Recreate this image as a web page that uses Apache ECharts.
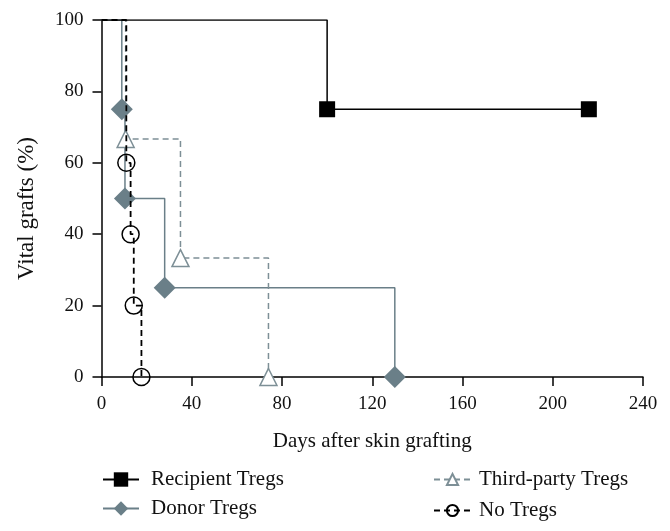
<!DOCTYPE html>
<html><head><meta charset="utf-8">
<script src="https://cdn.jsdelivr.net/npm/echarts@6/dist/echarts.min.js"></script>
<style>html,body{margin:0;padding:0;background:#fff}#c{width:670px;height:531px}</style>
</head><body><div id="c"></div>
<script>
// Kaplan-Meier style data (days, % vital grafts)
const recipientX = [0, 100, 216];
const recipientY = [100, 75, 75];
const donorX = [0, 9, 10.4, 28, 130];
const donorY = [100, 75, 50, 25, 0];
const thirdX = [0, 10.7, 35, 74];
const thirdY = [100, 66.7, 33.3, 0];
const noX = [0, 11, 12.9, 14.3, 17.7];
const noY = [100, 60, 40, 20, 0];
const xTicks = [0, 40, 80, 120, 160, 200, 240];
const yTicks = [0, 20, 40, 60, 80, 100];

const GRAY = '#6a7f88';
const FONT = '"Liberation Serif", "DejaVu Serif", serif';

function pts(xs, ys) {
  return xs.map((x, i) => i === 0 ? {value: [x, ys[i]], symbol: 'none'} : {value: [x, ys[i]]});
}

const chart = echarts.init(document.getElementById('c'), null, {renderer: 'canvas'});
chart.setOption({
  animation: false,
  backgroundColor: '#fff',
  textStyle: {fontFamily: FONT},
  grid: {left: 101.5, right: 27, top: 20, bottom: 154, containLabel: false, outerBoundsMode: 'none'},
  xAxis: {
    type: 'value', min: xTicks[0], max: xTicks[xTicks.length - 1], interval: 40,
    name: 'Days after skin grafting', nameLocation: 'middle', nameGap: 54,
    nameTextStyle: {fontFamily: FONT, fontSize: 21, color: '#111'},
    axisLine: {show: true, lineStyle: {color: '#000', width: 1.5}},
    axisTick: {show: true, inside: false, length: 9, lineStyle: {color: '#000', width: 1.5}},
    axisLabel: {fontFamily: FONT, fontSize: 19, color: '#111', margin: 18},
    splitLine: {show: false}
  },
  yAxis: {
    type: 'value', min: yTicks[0], max: yTicks[yTicks.length - 1], interval: 20,
    name: 'Vital grafts (%)', nameLocation: 'middle', nameGap: 63,
    nameTextStyle: {fontFamily: FONT, fontSize: 23, color: '#111', padding: [0, 20, 0, 0]},
    axisLine: {show: true, lineStyle: {color: '#000', width: 1.5}},
    axisTick: {show: true, inside: false, length: 9, lineStyle: {color: '#000', width: 1.5}},
    axisLabel: {fontFamily: FONT, fontSize: 19, color: '#111', margin: 18},
    splitLine: {show: false}
  },
  legend: [
    {
      data: ['Recipient Tregs', 'Donor Tregs'], orient: 'vertical',
      left: 97, top: 464, itemGap: 8, itemWidth: 36, itemHeight: 18,
      textStyle: {fontFamily: FONT, fontSize: 21, color: '#111', padding: [0, 0, 0, 7]}
    },
    {
      data: ['Third-party Tregs', 'No Tregs'], orient: 'vertical',
      left: 428, top: 464, itemGap: 10, itemWidth: 37, itemHeight: 14,
      textStyle: {fontFamily: FONT, fontSize: 21, color: '#111', padding: [0, 0, 0, 3]}
    }
  ],
  series: [
    {
      name: 'Donor Tregs', type: 'line', step: 'end', data: pts(donorX, donorY),
      symbol: 'diamond', symbolSize: 22, showAllSymbol: true,
      lineStyle: {color: GRAY, width: 1.5}, itemStyle: {color: GRAY, borderWidth: 0}, z: 2
    },
    {
      name: 'Third-party Tregs', type: 'line', step: 'end', data: pts(thirdX, thirdY),
      symbol: 'triangle', symbolSize: 17, showAllSymbol: true,
      lineStyle: {color: '#7d8f96', width: 1.5, type: [6, 4]},
      itemStyle: {color: '#fff', borderColor: '#7d8f96', borderWidth: 1.5}, z: 3
    },
    {
      name: 'No Tregs', type: 'line', step: 'end', data: pts(noX, noY),
      symbol: 'circle', symbolSize: 17, showAllSymbol: true,
      lineStyle: {color: '#000', width: 1.8, type: [6, 4]},
      itemStyle: {color: 'rgba(255,255,255,0)', borderColor: '#000', borderWidth: 1.5}, z: 4
    },
    {
      name: 'Recipient Tregs', type: 'line', step: 'end', data: pts(recipientX, recipientY),
      symbol: 'rect', symbolSize: 16, showAllSymbol: true,
      lineStyle: {color: '#000', width: 1.5}, itemStyle: {color: '#000', borderWidth: 0}, z: 5
    }
  ]
});
</script></body></html>
